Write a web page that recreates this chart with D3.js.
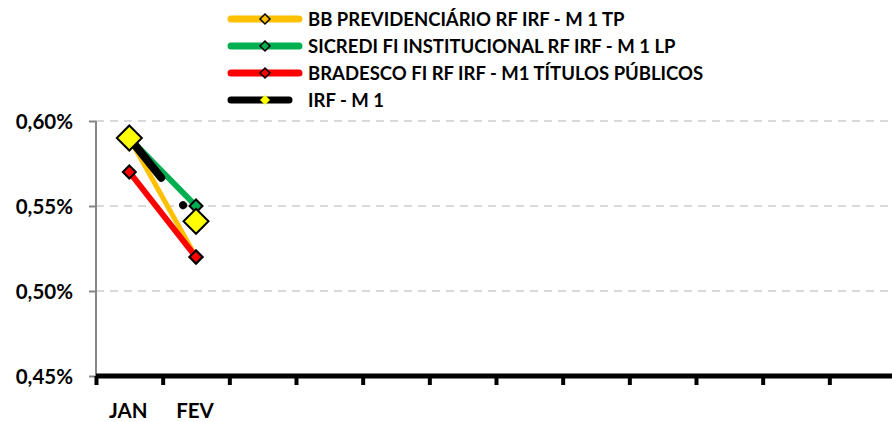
<!DOCTYPE html>
<html><head><meta charset="utf-8">
<script src="https://cdn.jsdelivr.net/npm/d3@7"></script>
<style>html,body{margin:0;padding:0;background:#fff;}svg{display:block;}</style>
</head><body>
<svg id="c" width="892" height="422"></svg>
<script>
const categories = ["JAN","FEV","MAR","ABR","MAI","JUN","JUL","AGO","SET","OUT","NOV","DEZ"];
const categoryLabels = ["JAN","FEV","","","","","","","","","",""];
const seriesNames = ["BB PREVIDENCIÁRIO RF IRF - M 1 TP","SICREDI FI INSTITUCIONAL RF IRF - M 1 LP","BRADESCO FI RF IRF - M1 TÍTULOS PÚBLICOS","IRF - M 1"];
const bbValues = [0.59, 0.52];
const sicrediValues = [0.59, 0.55];
const bradescoValues = [0.57, 0.52];
const irfValues = [0.59, 0.541];
const yTicks = [0.45, 0.50, 0.55, 0.60];

const series = [
  {name: seriesNames[0], values: bbValues, line: "#FFC000", fill: "#FFC000", lw: 5, ms: 6.5, dash: null},
  {name: seriesNames[1], values: sicrediValues, line: "#00B050", fill: "#00B050", lw: 6, ms: 6.5, dash: null},
  {name: seriesNames[2], values: bradescoValues, line: "#FF0000", fill: "#FF0000", lw: 6, ms: 6.5, dash: null},
  {name: seriesNames[3], values: irfValues, line: "#000000", fill: "#FFFF00", lw: 8, ms: 12.5, dash: "51,35,0.1,60"}
];

const svg = d3.select("#c");
const font = "Lato, 'Open Sans', sans-serif";
const x = d3.scaleLinear().domain([0, categories.length]).range([96, 896]);
const y = d3.scaleLinear().domain([0.45, 0.60]).range([376, 121]);

// gridlines
svg.append("g").selectAll("line").data(yTicks.filter(d => d > 0.45)).join("line")
  .attr("x1", x(0)).attr("x2", 892).attr("y1", d => y(d)).attr("y2", d => y(d))
  .attr("stroke", "#d9d9d9").attr("stroke-width", 2).attr("stroke-dasharray", "8,6");

// y axis
const yAxis = svg.append("g").attr("transform", `translate(${x(0)},0)`)
  .call(d3.axisLeft(y).tickValues(yTicks).tickSize(7).tickPadding(16)
    .tickFormat(d => d.toFixed(2).replace(".", ",") + "%"));
yAxis.select(".domain").attr("stroke", "#868686").attr("stroke-width", 2).attr("d", `M0,${y(0.60)}V${y(0.45)}`);
yAxis.selectAll(".tick line").attr("stroke", "#868686").attr("stroke-width", 2);
yAxis.selectAll(".tick text").attr("font-family", font).attr("font-weight", "bold")
  .attr("font-size", 20.5).attr("fill", "#000").attr("dy", "0.36em");

// x axis
const xAxis = svg.append("g").attr("transform", `translate(0,${y(0.45)})`)
  .call(d3.axisBottom(x).tickValues(d3.range(categories.length + 1)).tickSize(9).tickFormat(""));
xAxis.select(".domain").attr("stroke", "#000").attr("stroke-width", 5).attr("d", `M${x(0)},0H892`);
xAxis.selectAll(".tick line").attr("stroke", "#000").attr("stroke-width", 4);
svg.append("g").selectAll("text").data(categories).join("text")
  .attr("x", (d, i) => x(i + 0.5) - 1).attr("y", 418).attr("text-anchor", "middle")
  .attr("font-family", font).attr("font-weight", "bold").attr("font-size", 20.5)
  .text((d, i) => categoryLabels[i]);

// series
const diamond = (cx, cy, r) => `M${cx},${cy - r}L${cx + r},${cy}L${cx},${cy + r}L${cx - r},${cy}Z`;
const lineGen = d3.line().x((d, i) => x(i + 0.5)).y(d => y(d));
series.forEach(s => {
  const g = svg.append("g");
  g.append("path").attr("d", lineGen(s.values)).attr("fill", "none")
    .attr("stroke", s.line).attr("stroke-width", s.lw).attr("stroke-linecap", "round")
    .attr("stroke-dasharray", s.dash);
  g.selectAll("path.m").data(s.values).join("path").attr("class", "m")
    .attr("d", (d, i) => diamond(x(i + 0.5), y(d), s.ms))
    .attr("fill", s.fill).attr("stroke", "#000").attr("stroke-width", 2);
});

// legend
const legendRows = [19, 46, 73, 100];
const lg = svg.append("g");
series.forEach((s, i) => {
  const cy = legendRows[i];
  const x2 = i === 3 ? 292 : 302;
  lg.append("line").attr("x1", 231).attr("x2", x2 - 3).attr("y1", cy).attr("y2", cy)
    .attr("stroke", s.line).attr("stroke-width", 7).attr("stroke-linecap", "round");
  lg.append("path").attr("d", diamond(265, cy, 5)).attr("fill", s.fill)
    .attr("stroke", i === 3 ? "none" : "#000").attr("stroke-width", 1.5);
  lg.append("text").attr("x", 308).attr("y", cy + 7)
    .attr("font-family", font).attr("font-weight", "bold").attr("font-size", 18.5)
    .text(s.name);
});
</script>
</body></html>
